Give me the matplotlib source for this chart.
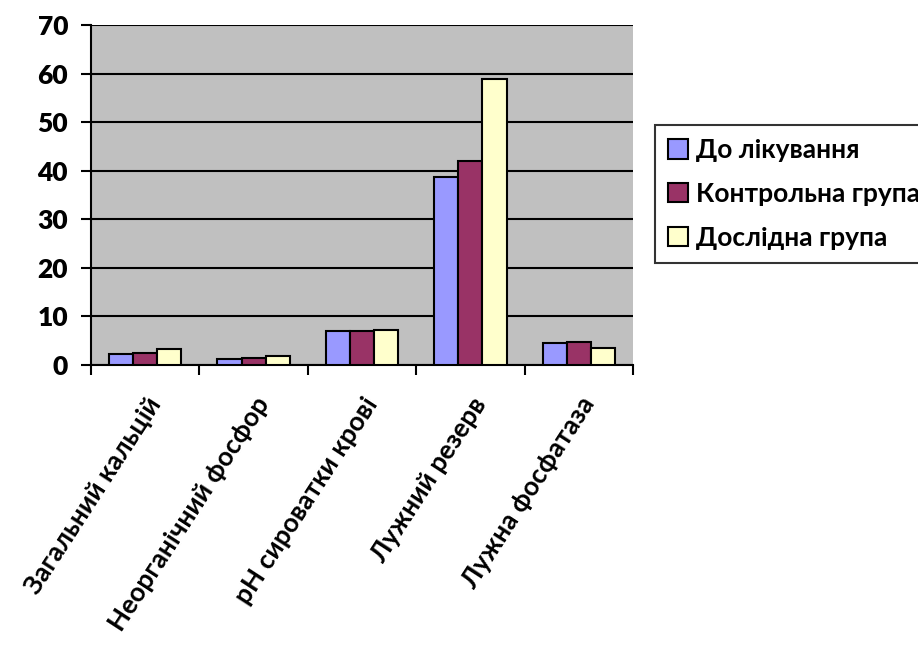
import numpy as np
import matplotlib
matplotlib.use("Agg")
import matplotlib.pyplot as plt

plt.rcParams['font.family'] = ['Lato', 'Open Sans', 'DejaVu Sans']
plt.rcParams['font.weight'] = 'bold'

categories = ["Загальний кальцій", "Неорганічний фосфор", "pH сироватки крові",
              "Лужний резерв", "Лужна фосфатаза"]
series_names = ["До лікування", "Контрольна група", "Дослідна група"]
before = [2.2, 1.3, 6.9, 38.7, 4.5]
control = [2.4, 1.5, 7.0, 42.1, 4.7]
experimental = [3.2, 1.8, 7.3, 58.8, 3.5]
y_ticks = [0, 10, 20, 30, 40, 50, 60, 70]

colors = ["#9999FF", "#993366", "#FFFFCC"]

fig = plt.figure(figsize=(9.18, 6.5), dpi=100)
ax = fig.add_axes([91/918, 1 - 365/650, (633 - 91)/918, (365 - 25)/650])
ax.set_facecolor("#C0C0C0")

x = np.arange(len(categories))
w = 1 / 4.5
for i, (vals, name, c) in enumerate(zip([before, control, experimental], series_names, colors)):
    ax.bar(x + (i - 1) * w, vals, width=w, color=c, edgecolor="black",
           linewidth=1.5, label=name, zorder=3)

ax.set_xlim(-0.5, len(categories) - 0.5)
ax.set_ylim(0, 70)
ax.set_yticks(y_ticks)
ax.set_yticklabels([str(v) for v in y_ticks], fontsize=19, fontweight='heavy')
ax.yaxis.grid(True, color="black", linewidth=1.5, zorder=1)
ax.set_axisbelow(True)

ax.set_xticks(np.arange(-0.5, len(categories)), minor=False)
ax.set_xticklabels([])
ax.set_xticks(x, minor=True)
ax.set_xticklabels(categories, minor=True, rotation=57, ha='right',
                   rotation_mode='anchor', fontsize=19, fontweight='bold')
ax.tick_params(axis='x', which='minor', length=0, pad=20)
ax.tick_params(axis='x', which='major', length=7.5, width=1.5, direction='out')
ax.tick_params(axis='y', length=7.5, width=1.5, direction='out', pad=9)

for s in ['top', 'right']:
    ax.spines[s].set_visible(False)
for s in ['left', 'bottom']:
    ax.spines[s].set_linewidth(1.5)

leg = fig.legend(loc='upper left', bbox_to_anchor=(655/918, 1 - 125/650),
                 fontsize=19, frameon=True, fancybox=False, edgecolor='black',
                 handlelength=0.75, handleheight=0.75, handletextpad=0.3,
                 labelspacing=0.75, borderpad=0.5, borderaxespad=0)
leg.get_frame().set_linewidth(1.5)
for t in leg.get_texts():
    t.set_fontweight('bold')

fig.savefig("out.png", dpi=100)
